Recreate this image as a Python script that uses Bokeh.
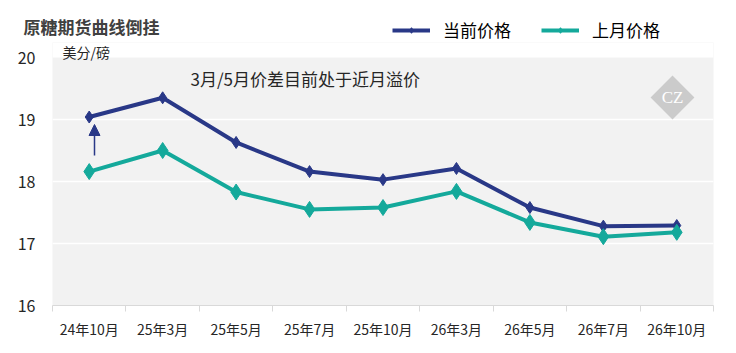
import math
from bokeh.plotting import figure
from bokeh.layouts import column
from bokeh.models import (Range1d, FixedTicker, Label, Arrow, NormalHead, Legend, LegendItem, BoxAnnotation)
from bokeh.embed import file_html
from bokeh.resources import INLINE

categories = ["24年10月", "25年3月", "25年5月", "25年7月", "25年10月", "26年3月", "26年5月", "26年7月", "26年10月"]
current_price = [19.04, 19.35, 18.63, 18.16, 18.03, 18.21, 17.58, 17.28, 17.29]
last_month_price = [18.16, 18.50, 17.83, 17.55, 17.58, 17.84, 17.34, 17.11, 17.18]
y_ticks = [16, 17, 18, 19, 20]

title_text = "原糖期货曲线倒挂"
unit_text = "美分/磅"
note_text = "3月/5月价差目前处于近月溢价"
series_names = ["当前价格", "上月价格"]

NAVY = "#293887"
TEAL = "#14A99B"
FONT = "Noto Sans CJK SC"

W, H = 736, 353
HEAD = 42                 # header strip height
L, R, B = 52, 23, 48      # main plot borders
FRAME_TOP_ABS = HEAD
Y20_ABS, Y16_ABS = 57, 305
PX_PER_UNIT = (Y16_ABS - Y20_ABS) / 4.0
y_top = 20 + (Y20_ABS - FRAME_TOP_ABS) / PX_PER_UNIT
fw = W - L - R

# ---------------- header (title + legend) ----------------
head = figure(width=W, height=HEAD, output_backend="svg", toolbar_location=None,
              x_range=Range1d(0, W), y_range=Range1d(HEAD, 0),
              x_axis_type=None, y_axis_type=None,
              min_border_left=0, min_border_right=0, min_border_top=0, min_border_bottom=0)
head.frame_align = False
head.outline_line_color = None
head.grid.visible = False
head.background_fill_color = "white"
head.border_fill_color = "white"

head.add_layout(Label(x=23, y=26, text=title_text, text_font=FONT, text_font_style="bold",
                      text_font_size="17px", text_color="#404040", text_baseline="middle"))

# swatch-only renderers for the legend (their single point lies outside the visible range)
hl1 = head.line([-50, -40], [-50, -50], line_color=NAVY, line_width=4)
hs1 = head.scatter([-50], [-50], marker="diamond", size=10, fill_color=NAVY, line_color=NAVY)
hl2 = head.line([-50, -40], [-50, -50], line_color=TEAL, line_width=4)
hs2 = head.scatter([-50], [-50], marker="diamond", size=12, fill_color=TEAL, line_color=TEAL)
legend = Legend(items=[LegendItem(label=series_names[0], renderers=[hl1, hs1]),
                       LegendItem(label=series_names[1], renderers=[hl2, hs2])],
                orientation="horizontal", location=(392, 0),
                glyph_width=38, glyph_height=14, label_height=14, label_standoff=13, spacing=30,
                padding=0, margin=0, border_line_color=None, background_fill_alpha=0,
                label_text_font=FONT, label_text_font_size="17px", label_text_color="#000000")
head.add_layout(legend, "center")

# ---------------- main chart ----------------
p = figure(width=W, height=H - HEAD, output_backend="svg", toolbar_location=None,
           x_range=Range1d(0, len(categories)), y_range=Range1d(16, y_top),
           min_border_left=L, min_border_right=R, min_border_top=0, min_border_bottom=B)
p.frame_align = False
p.background_fill_color = "#F2F2F2"
p.border_fill_color = "white"
p.outline_line_color = None

# white strip above the value range (the plot area ends at 20)
p.add_layout(BoxAnnotation(bottom=20, fill_color="white", fill_alpha=1, line_color=None, level="underlay"))

xs = [i + 0.5 for i in range(len(categories))]

p.xaxis.ticker = FixedTicker(ticks=xs, minor_ticks=list(range(len(categories) + 1)))
p.xaxis.major_label_overrides = {x: c for x, c in zip(xs, categories)}
p.xaxis.major_tick_line_color = None
p.xaxis.major_tick_out = 0
p.xaxis.major_tick_in = 0
p.xaxis.minor_tick_in = 0
p.xaxis.minor_tick_out = 6
p.xaxis.minor_tick_line_color = "#D9D9D9"
p.xaxis.axis_line_color = "#D9D9D9"
p.xaxis.axis_line_width = 1
p.xaxis.major_label_text_font = FONT
p.xaxis.major_label_text_font_size = "14px"
p.xaxis.major_label_text_color = "#262626"
p.xaxis.major_label_standoff = 7

p.yaxis.ticker = FixedTicker(ticks=y_ticks)
p.yaxis.axis_line_color = None
p.yaxis.major_tick_line_color = None
p.yaxis.major_tick_out = 0
p.yaxis.major_tick_in = 0
p.yaxis.minor_tick_line_color = None
p.yaxis.major_label_text_font = FONT
p.yaxis.major_label_text_font_size = "16px"
p.yaxis.major_label_text_color = "#262626"
p.yaxis.major_label_standoff = 17

p.xgrid.grid_line_color = None
p.ygrid.ticker = FixedTicker(ticks=y_ticks[1:-1])
p.ygrid.grid_line_color = "white"
p.ygrid.grid_line_width = 1.5


def dx(px):
    return (px - L) / fw * len(categories)


def dy(py):
    return 16 + (Y16_ABS - py) / PX_PER_UNIT


# watermark
p.scatter([dx(672)], [dy(97)], marker="square", size=31, angle=math.pi / 4,
          fill_color="#CBCBCB", line_color=None)
p.add_layout(Label(x=dx(672), y=dy(97), text="CZ", text_font="Liberation Serif",
                   text_font_size="17px", text_color="white", text_align="center",
                   text_baseline="middle"))

# series
p.line(xs, current_price, line_color=NAVY, line_width=4)
p.scatter(xs, current_price, marker="diamond", size=12, fill_color=NAVY, line_color=NAVY)
p.line(xs, last_month_price, line_color=TEAL, line_width=4)
p.scatter(xs, last_month_price, marker="diamond", size=16, fill_color=TEAL, line_color=TEAL)

# texts
p.add_layout(Label(x=dx(62), y=dy(51), text=unit_text, text_font=FONT,
                   text_font_size="14px", text_color="#262626", text_baseline="middle"))
p.add_layout(Label(x=dx(190), y=dy(78), text=note_text, text_font=FONT,
                   text_font_size="17px", text_color="#262626", text_baseline="middle"))

# arrow
p.add_layout(Arrow(x_start=dx(94), y_start=dy(155), x_end=dx(94), y_end=dy(124),
                   line_color=NAVY, line_width=1.5,
                   end=NormalHead(size=11, fill_color=NAVY, line_color=NAVY)))

layout = column(head, p, spacing=0)
open("out.html", "w").write(file_html(layout, INLINE))
